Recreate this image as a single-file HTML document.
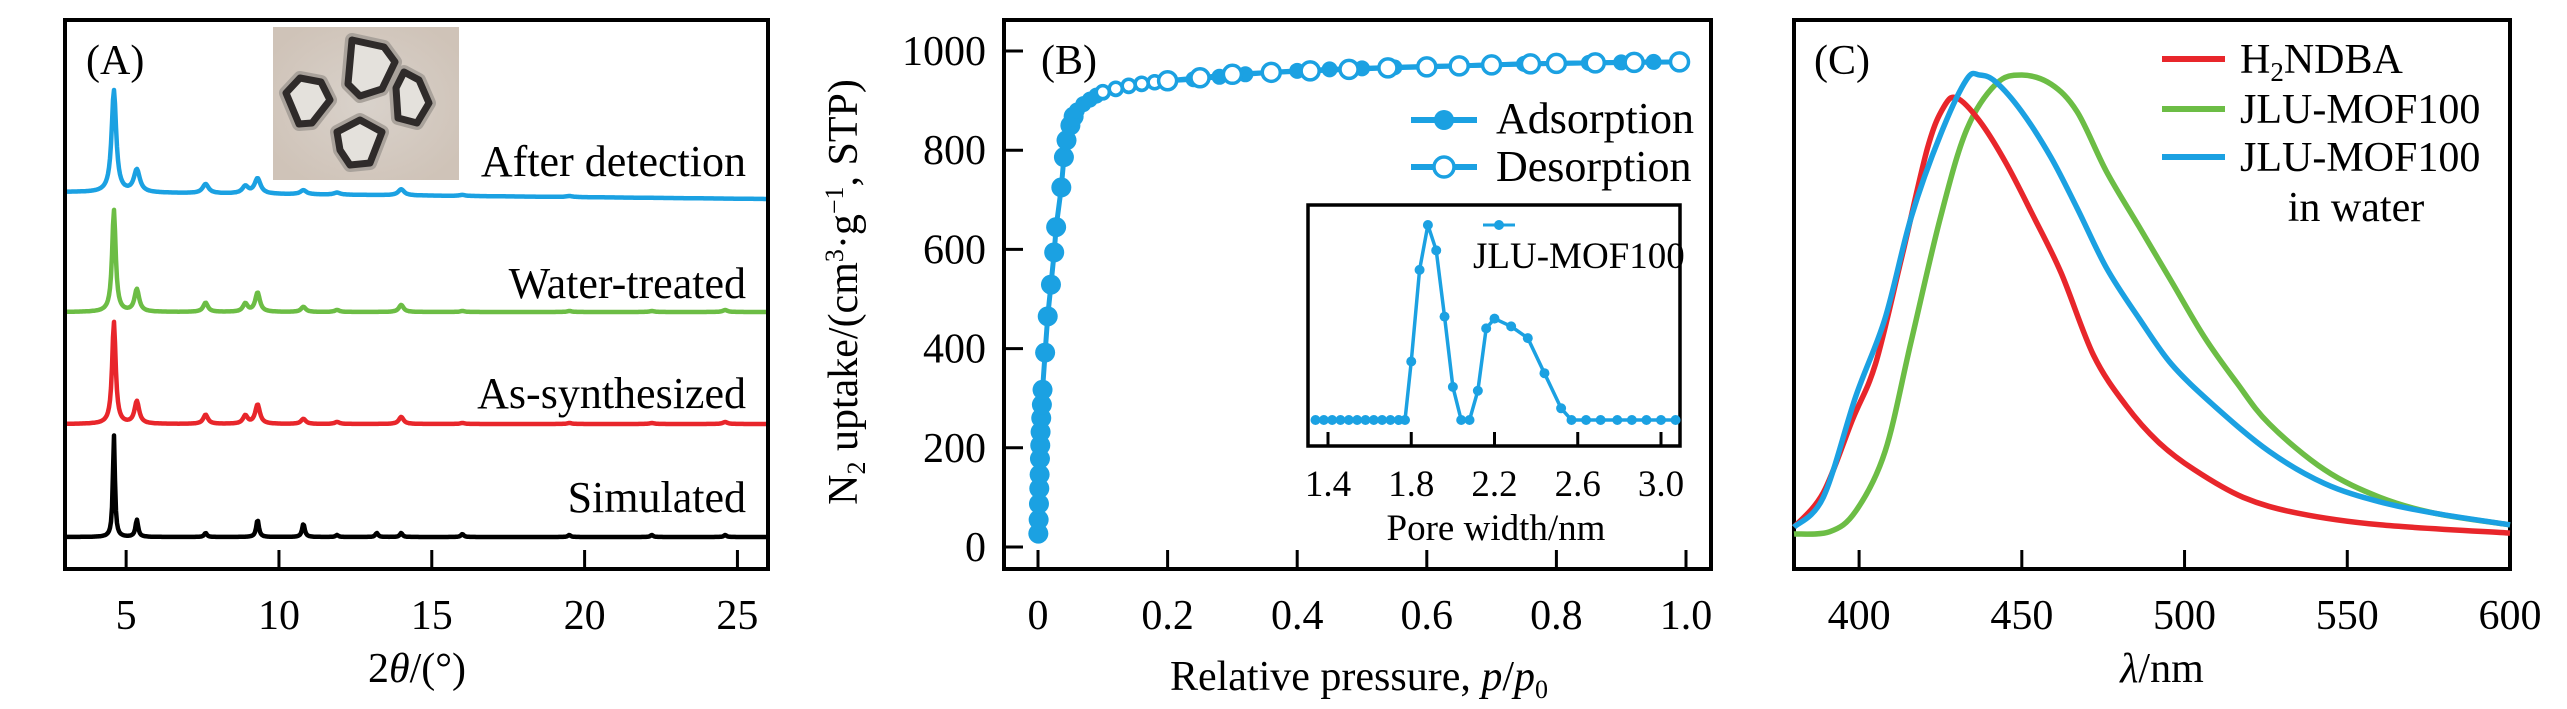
<!DOCTYPE html>
<html><head><meta charset="utf-8">
<style>
html,body{margin:0;padding:0;background:#fff;}
svg{display:block;font-family:"Liberation Serif",serif;}
</style></head>
<body>
<svg id="fig" width="2567" height="709" viewBox="0 0 2567 709" xmlns="http://www.w3.org/2000/svg">
<defs>
<radialGradient id="bg" cx="50%" cy="50%" r="60%"><stop offset="0" stop-color="#d9d2cb"/><stop offset="1" stop-color="#cfc3b8"/></radialGradient>
</defs>
<g id="pa"></g>
<g id="pb"></g>
<g id="pc"></g>
</svg>
<script>
// ---------- Panel A data ----------
const xrdSeries = ["After detection","Water-treated","As-synthesized","Simulated"];
const xrdColors = ["#1ba1e2","#6cbd45","#e8262b","#000000"];
const xrdPeakPos = [4.6,5.35,7.6,8.9,9.3,10.8,11.9,13.2,14.0,16.0,19.5,22.2,24.6];
const xrdBlue  = [1.0,0.22,0.09,0.07,0.15,0.04,0.02,0.0,0.06,0.01,0.01,0.0,0.0];
const xrdGreen = [1.0,0.22,0.09,0.08,0.19,0.05,0.02,0.0,0.07,0.01,0.01,0.01,0.02];
const xrdRed   = [1.0,0.22,0.09,0.08,0.19,0.05,0.02,0.0,0.07,0.01,0.01,0.01,0.02];
const xrdBlack = [1.0,0.17,0.04,0.0,0.17,0.13,0.02,0.04,0.04,0.03,0.02,0.02,0.02];
const xrdTicks = [5,10,15,20,25];
// ---------- Panel B data ----------
const adsP = [0.0005,0.001,0.0015,0.002,0.0025,0.003,0.0035,0.004,0.005,0.006,0.007,0.011,0.015,0.02,0.025,0.028,0.036,0.04,0.044,0.05,0.055,0.06,0.07,0.08,0.09,0.1,0.12,0.14,0.16,0.18,0.2,0.24,0.28,0.32,0.36,0.4,0.45,0.5,0.55,0.6,0.65,0.7,0.75,0.8,0.85,0.9,0.95];
const adsV = [27,55,87,118,146,178,205,232,260,287,317,392,465,529,594,645,725,786,820,850,868,880,893,902,910,916,923,929,933,937,940,943,948,953,957,960,963,965,967,969,970,972,974,975,976,977,978];
const desP = [0.1,0.12,0.14,0.16,0.18,0.2,0.25,0.3,0.36,0.42,0.48,0.54,0.6,0.65,0.7,0.76,0.8,0.86,0.92,0.99];
const desV = [917,924,930,934,937,940,946,953,957,960,963,966,968,970,972,974,975,976,977,978];
const bXTicks = [0,0.2,0.4,0.6,0.8,1.0];
const bXLabels = ["0","0.2","0.4","0.6","0.8","1.0"];
const bYTicks = [0,200,400,600,800,1000];
const poreW = [1.34,1.38,1.42,1.46,1.50,1.54,1.58,1.62,1.66,1.70,1.74,1.77,1.80,1.84,1.88,1.92,1.96,2.0,2.04,2.08,2.12,2.16,2.20,2.28,2.36,2.44,2.52,2.57,2.64,2.71,2.79,2.86,2.93,3.0,3.07];
const poreV = [0,0,0,0,0,0,0,0,0,0,0,0,0.30,0.77,1.0,0.87,0.53,0.17,0,0,0.15,0.47,0.52,0.48,0.42,0.24,0.06,0,0,0,0,0,0,0,0];
const poreTicks = [1.4,1.8,2.2,2.6,3.0];
const poreLabels = ["1.4","1.8","2.2","2.6","3.0"];
// ---------- Panel C data ----------
const redL = [380,389,398,405,413,421,426,430,437,445,453,462,472,482,492,503,518,535,560,600];
const redI = [0.015,0.09,0.25,0.37,0.60,0.84,0.93,0.95,0.90,0.81,0.70,0.57,0.39,0.28,0.20,0.14,0.08,0.045,0.02,0.002];
const blueL = [380,389,399,408,416,425,433,437,442,450,459,467,476,486,496,509,526,543,560,577,600];
const blueI = [0.015,0.08,0.30,0.47,0.69,0.87,0.99,1.0,0.985,0.92,0.82,0.71,0.58,0.47,0.37,0.28,0.18,0.11,0.07,0.045,0.02];
const greenL = [380,391,399,408,416,425,433,442,450,459,467,476,486,496,506,516,526,543,560,577,600];
const greenI = [0,0.005,0.05,0.18,0.42,0.69,0.88,0.98,1.0,0.98,0.92,0.79,0.67,0.55,0.43,0.33,0.24,0.14,0.08,0.045,0.02];
const cTicks = [400,450,500,550,600];

const NS="http://www.w3.org/2000/svg";
function mk(parent,tag,attrs,text){const e=document.createElementNS(NS,tag);for(const k in attrs)e.setAttribute(k,attrs[k]);if(text!==undefined)e.textContent=text;parent.appendChild(e);return e;}
function lin(d0,d1,r0,r1){return v=>r0+(v-d0)/(d1-d0)*(r1-r0);}
function smooth(pts){
 let d='M'+pts[0][0].toFixed(1)+','+pts[0][1].toFixed(1);
 for(let i=0;i<pts.length-1;i++){
  const p0=pts[Math.max(0,i-1)],p1=pts[i],p2=pts[i+1],p3=pts[Math.min(pts.length-1,i+2)];
  const c1x=p1[0]+(p2[0]-p0[0])/6,c1y=p1[1]+(p2[1]-p0[1])/6;
  const c2x=p2[0]-(p3[0]-p1[0])/6,c2y=p2[1]-(p3[1]-p1[1])/6;
  d+='C'+c1x.toFixed(1)+','+c1y.toFixed(1)+' '+c2x.toFixed(1)+','+c2y.toFixed(1)+' '+p2[0].toFixed(1)+','+p2[1].toFixed(1);
 }
 return d;
}

// ===== Panel A =====
(function(){
const g=document.getElementById('pa');
const L=65,R=768,T=20,B=569;
const x=lin(3,26,L,R);
const frame=mk(g,'rect',{x:L,y:T,width:R-L,height:B-T,fill:'none',stroke:'#000','stroke-width':4});

xrdTicks.forEach(t=>{
 const tk=mk(g,'line',{x1:x(t),x2:x(t),y1:B,y2:B-19,stroke:'#000','stroke-width':3});
 
 const tl=mk(g,'text',{x:x(t),y:629,'font-size':42,'text-anchor':'middle'},String(t));
 
});
const xt=mk(g,'text',{x:417,y:682,'font-size':42,'text-anchor':'middle'});

xt.innerHTML='2<tspan font-style="italic">θ</tspan>/(°)';
const sets=[xrdBlue,xrdGreen,xrdRed,xrdBlack];
const bases=[199,312,424,537];
const widths=[0.09,0.07,0.07,0.04];
const amp=102;
sets.forEach((hs,si)=>{
 let d='';
 for(let px=L+2;px<=R-2;px+=1){
  const v=3+(px-L)/(R-L)*23;
  let s=0;
  xrdPeakPos.forEach((p,i)=>{const w=widths[si]*(i===0?1:1.3);s+=hs[i]/(1+((v-p)/w)**2);});
  const tilt=si===0?(-7*(R-px)/(R-L)):0;
  const yy=bases[si]+tilt-s*amp;
  d+=(d?'L':'M')+px+','+yy.toFixed(1);
 }
 const p=mk(g,'path',{d:d,fill:'none',stroke:xrdColors[si],'stroke-width':4.5,'stroke-linejoin':'round'});
 
});
const lblY=[176,298,408,512];
xrdSeries.forEach((s,i)=>{
 const t=mk(g,'text',{x:746,y:lblY[i],'font-size':44,'text-anchor':'end'},s);
 
});
const pl=mk(g,'text',{x:86,y:74,'font-size':42},'(A)');

// photo
const ph=mk(g,'g',{});

mk(ph,'rect',{x:273,y:27,width:186,height:153,fill:'url(#bg)'});
const tri=[[352,40,384,47,395,62,382,89,360,96,348,84],[286,93,300,78,321,82,330,100,312,123,299,124],[404,72,419,80,429,103,417,123,398,118,396,88],[337,132,360,120,382,132,370,163,350,165,340,150]];
tri.forEach(pt=>{
 let s='';for(let i=0;i<pt.length;i+=2)s+=pt[i]+','+pt[i+1]+' ';
 mk(ph,'polygon',{points:s,fill:'#a09a95',stroke:'#a9a29b','stroke-width':14,'stroke-linejoin':'round'});
 mk(ph,'polygon',{points:s,fill:'#e4e1dc',stroke:'#2f2b2a','stroke-width':7,'stroke-linejoin':'round'});
});
})();

// ===== Panel B =====
(function(){
const g=document.getElementById('pb');
const L=1004,R=1711,T=20,B=569;
const x=lin(0,1,1038,1686), y=lin(0,1000,547,51);
const C='#1ba1e2';
const fr=mk(g,'rect',{x:L,y:T,width:R-L,height:B-T,fill:'none',stroke:'#000','stroke-width':4});

bXTicks.forEach((t,i)=>{
 const tk=mk(g,'line',{x1:x(t),x2:x(t),y1:B,y2:B-19,stroke:'#000','stroke-width':3});
 
 const tl=mk(g,'text',{x:x(t),y:629,'font-size':42,'text-anchor':'middle'},bXLabels[i]);
 
});
bYTicks.forEach(t=>{
 const tk=mk(g,'line',{x1:L,x2:L+19,y1:y(t),y2:y(t),stroke:'#000','stroke-width':3});
 
 const tl=mk(g,'text',{x:986,y:y(t)+14,'font-size':42,'text-anchor':'end'},String(t));
 
});
const xt=mk(g,'text',{x:1359,y:690,'font-size':42,'text-anchor':'middle'});

xt.innerHTML='Relative pressure, <tspan font-style="italic">p</tspan>/<tspan font-style="italic">p</tspan><tspan font-size="26" dy="8">0</tspan>';
const yt=mk(g,'text',{x:0,y:0,'font-size':42,'text-anchor':'middle',transform:'translate(857,292) rotate(-90)'});

yt.innerHTML='N<tspan font-size="26" dy="8">2</tspan><tspan dy="-8"> uptake/(cm</tspan><tspan font-size="26" dy="-14">3</tspan><tspan dy="14">·g</tspan><tspan font-size="26" dy="-14">−1</tspan><tspan dy="14">, STP)</tspan>';
let d='';desP.forEach((p,i)=>{d+=(i?'L':'M')+x(p)+','+y(desV[i]);});
const dl=mk(g,'path',{d:d,fill:'none',stroke:C,'stroke-width':5});

d='';adsP.forEach((p,i)=>{d+=(i?'L':'M')+x(p)+','+y(adsV[i]);});
const al=mk(g,'path',{d:d,fill:'none',stroke:C,'stroke-width':5});

adsP.forEach((p,i)=>{
 const r=adsV[i]<880?10:8;
 const c=mk(g,'circle',{cx:x(p),cy:y(adsV[i]),r:r,fill:C});
 
});
desP.forEach((p,i)=>{
 const c=mk(g,'circle',{cx:x(p),cy:y(desV[i]),r:p<0.19?6.5:9,fill:'#fff',stroke:C,'stroke-width':3.5});
 
});
const pl=mk(g,'text',{x:1041,y:74,'font-size':42},'(B)');

const lg=mk(g,'g',{});
mk(lg,'line',{x1:1411,x2:1477,y1:120,y2:120,stroke:C,'stroke-width':6});
mk(lg,'circle',{cx:1444,cy:120,r:10,fill:C});
mk(lg,'text',{x:1496,y:133,'font-size':44},'Adsorption');
mk(lg,'line',{x1:1411,x2:1477,y1:167,y2:167,stroke:C,'stroke-width':6});
mk(lg,'circle',{cx:1444,cy:167,r:10,fill:'#fff',stroke:C,'stroke-width':3.5});
mk(lg,'text',{x:1496,y:181,'font-size':44},'Desorption');
const ig=mk(g,'g',{});
const iL=1308,iR=1680,iT=205,iB=446;
const ix=lin(1.4,3.0,1328,1661), iy=lin(0,1,420,225);
const ifr=mk(ig,'rect',{x:iL,y:iT,width:iR-iL,height:iB-iT,fill:'none',stroke:'#000','stroke-width':3.5});

poreTicks.forEach((t,i)=>{
 const tk=mk(ig,'line',{x1:ix(t),x2:ix(t),y1:iB,y2:iB-14,stroke:'#000','stroke-width':3});
 
 const tl=mk(ig,'text',{x:ix(t),y:496,'font-size':37,'text-anchor':'middle'},poreLabels[i]);
 
});
const it=mk(ig,'text',{x:1496,y:540,'font-size':37,'text-anchor':'middle'},'Pore width/nm');

d='';poreW.forEach((w,i)=>{d+=(i?'L':'M')+ix(w)+','+iy(poreV[i]);});
const ip=mk(ig,'path',{d:d,fill:'none',stroke:C,'stroke-width':3.5});

poreW.forEach((w,i)=>{
 const c=mk(ig,'circle',{cx:ix(w),cy:iy(poreV[i]),r:5,fill:C});
 
});
mk(ig,'line',{x1:1483,x2:1515,y1:225,y2:225,stroke:C,'stroke-width':3});
mk(ig,'circle',{cx:1499,cy:225,r:5,fill:C});
const itx=mk(ig,'text',{x:1473,y:268,'font-size':37},'JLU-MOF100');

})();

// ===== Panel C =====
(function(){
const g=document.getElementById('pc');
const L=1794,R=2510,T=20,B=569;
const x=lin(380,600,L,R), y=lin(0,1,534,75);
const fr=mk(g,'rect',{x:L,y:T,width:R-L,height:B-T,fill:'none',stroke:'#000','stroke-width':4});

cTicks.forEach(t=>{
 const tk=mk(g,'line',{x1:x(t),x2:x(t),y1:B,y2:B-19,stroke:'#000','stroke-width':3});
 
 const tl=mk(g,'text',{x:x(t),y:629,'font-size':42,'text-anchor':'middle'},String(t));
 
});
const xt=mk(g,'text',{x:2162,y:682,'font-size':42,'text-anchor':'middle'});

xt.innerHTML='<tspan font-style="italic">λ</tspan>/nm';
const series=[[greenL,greenI,'#6cbd45','green'],[redL,redI,'#e8262b','red'],[blueL,blueI,'#1ba1e2','blue']];
series.forEach(s=>{
 const pts=s[0].map((l,i)=>[x(l),y(s[1][i])]);
 const p=mk(g,'path',{d:smooth(pts),fill:'none',stroke:s[2],'stroke-width':5.5,'stroke-linejoin':'round'});
 
});
const pl=mk(g,'text',{x:1814,y:74,'font-size':42},'(C)');

const lg=mk(g,'g',{});
mk(lg,'line',{x1:2162,x2:2225,y1:59,y2:59,stroke:'#e8262b','stroke-width':6});
const t1=mk(lg,'text',{x:2240,y:73,'font-size':42});t1.innerHTML='H<tspan font-size="27" dy="8">2</tspan><tspan dy="-8">NDBA</tspan>';
mk(lg,'line',{x1:2162,x2:2225,y1:109,y2:109,stroke:'#6cbd45','stroke-width':6});
mk(lg,'text',{x:2240,y:123,'font-size':42},'JLU-MOF100');
mk(lg,'line',{x1:2162,x2:2225,y1:157,y2:157,stroke:'#1ba1e2','stroke-width':6});
mk(lg,'text',{x:2240,y:171,'font-size':42},'JLU-MOF100');
mk(lg,'text',{x:2356,y:221,'font-size':42,'text-anchor':'middle'},'in water');
})();
</script>
</body></html>
